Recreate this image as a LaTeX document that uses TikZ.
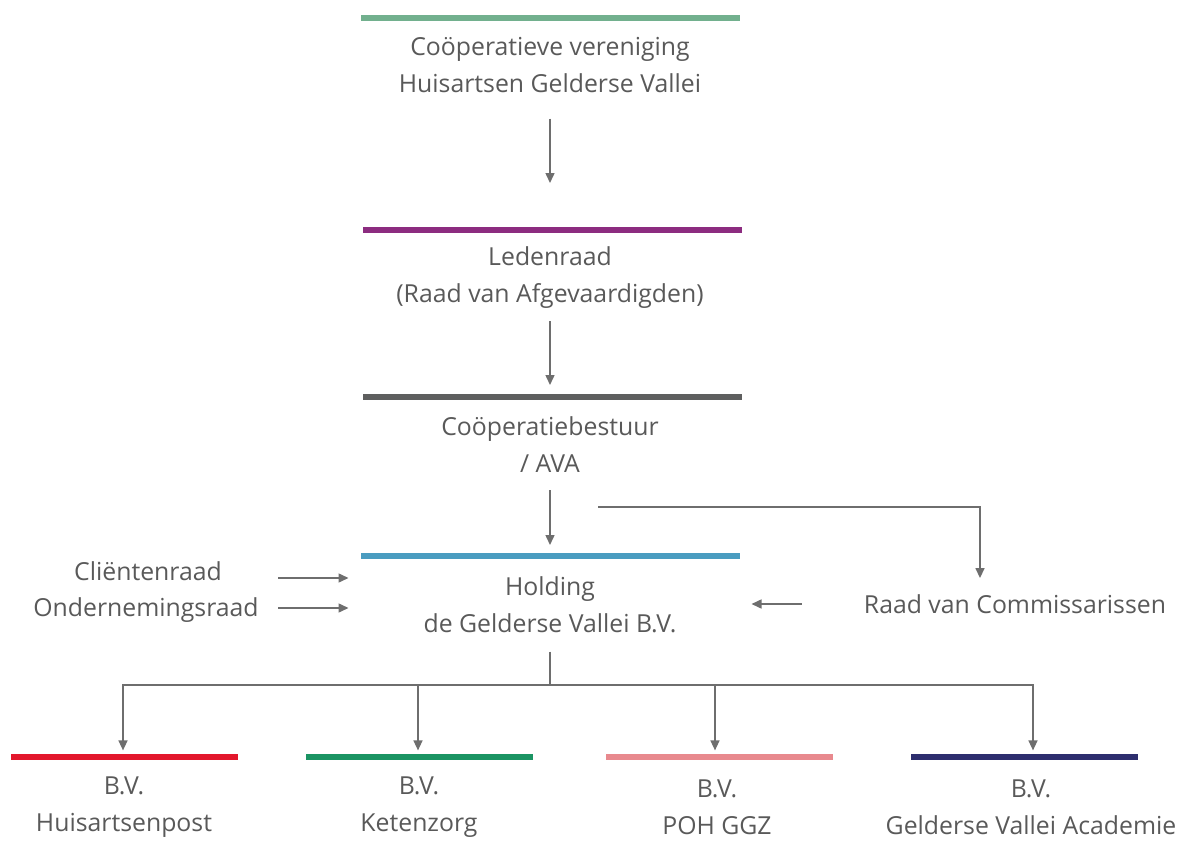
\documentclass[tikz,border=0pt]{standalone}
\usepackage{fontspec}
\setmainfont{Open Sans}
\usepackage{tikz}
\usetikzlibrary{positioning, calc, arrows.meta}
\usepackage{xcolor}
\definecolor{txtgray}{HTML}{595959}
\definecolor{lngray}{HTML}{6E6E6E}
\definecolor{coopgreen}{HTML}{72B08E}
\definecolor{ledenpurple}{HTML}{8C2C80}
\definecolor{bestuurgray}{HTML}{5E5F5F}
\definecolor{holdblue}{HTML}{4A9CC0}
\definecolor{hapred}{HTML}{E3172C}
\definecolor{ketgreen}{HTML}{1B9463}
\definecolor{pohpink}{HTML}{E8898E}
\definecolor{acadnavy}{HTML}{2D2E6E}

\tikzset{
  lbl/.style={text=txtgray, font=\fontsize{12.4}{18.5}\selectfont, align=center, inner sep=0pt},
  bar/.style={fill=#1, minimum width=189.5pt, minimum height=3pt, inner sep=0pt, outer sep=0pt},
  smallbar/.style={bar=#1, minimum width=113.5pt, minimum height=2.6pt},
  arr/.style={draw=lngray, line width=0.75pt, -{Triangle[length=5pt,width=4.5pt]}},
}

\begin{document}
\begin{tikzpicture}[x=0.5pt, y=-0.5pt]
    \useasboundingbox (0,0) rectangle (1191,841);

    % Cooperatie
    \node[bar=coopgreen] (coopbar) at (550,18) {};
    \node[lbl] (coop) at (550,65.5) {Coöperatieve vereniging\\Huisartsen Gelderse Vallei};

    % Ledenraad
    \node[bar=ledenpurple] (ledenbar) at (552,230) {};
    \node[lbl] (leden) at (550,278) {Ledenraad\\(Raad van Afgevaardigden)};

    % Bestuur
    \node[bar=bestuurgray] (bestuurbar) at (552,397) {};
    \node[lbl] (bestuur) at (550,445) {Coöperatiebestuur\\/ AVA};

    % Holding
    \node[bar=holdblue] (holdbar) at (550,556) {};
    \node[lbl] (holding) at (550,605) {Holding\\de Gelderse Vallei B.V.};

    % Raden links en rechts
    \node[lbl] (client) at (148,571) {Cliëntenraad};
    \node[lbl] (or) at (146,610) {Ondernemingsraad};
    \node[lbl] (rvc) at (1015,604) {Raad van Commissarissen};

    % Verbindingen
    \draw[arr, shorten <=12.5pt, shorten >=22pt] (coop.south) -- (ledenbar.north -| coop.south);
    \draw[arr, shorten <=6pt, shorten >=4.5pt] (leden.south) -- (bestuurbar.north -| leden.south);
    \draw[arr, shorten <=8.5pt, shorten >=4pt] (bestuur.south) -- (holdbar.north);
    \coordinate (rvcstart) at (598,507);
    \draw[arr, shorten >=8pt] (rvcstart) -| (rvc.north -| 980,0);
    \draw[arr, shorten <=31pt, shorten >=6pt] (rvc.west) -- (rvc.west -| holdbar.east);
    \draw[arr, shorten <=9.5pt, shorten >=6pt] ([yshift=-3.5pt]client.east -| or.east) -- ([yshift=-3.5pt]client.east -| holdbar.west);
    \draw[arr, shorten <=9.5pt, shorten >=6pt] ([yshift=1pt]or.east) -- ([yshift=1pt]or.east -| holdbar.west);

    % B.V.'s
    \coordinate (hub) at (550,685);
    \draw[draw=lngray, line width=0.75pt, shorten <=9pt] (holding.south) -- (hub);
    \foreach \name/\col/\x/\dx/\tx/\txt in {hap/hapred/124.5/-0.75pt/124/Huisartsenpost, ket/ketgreen/419.5/-0.75pt/419/Ketenzorg, poh/pohpink/719.5/-2.25pt/717/POH GGZ, gva/acadnavy/1024.5/4.25pt/1031/Gelderse Vallei Academie} {
        \node[smallbar=\col] (\name bar) at (\x,757) {};
        \node[lbl] (\name) at (\tx,807) {B.V.\\\txt};
        \draw[arr, shorten >=2pt] (hub) -| ([xshift=\dx]\name bar.north);
    }
\end{tikzpicture}
\end{document}
